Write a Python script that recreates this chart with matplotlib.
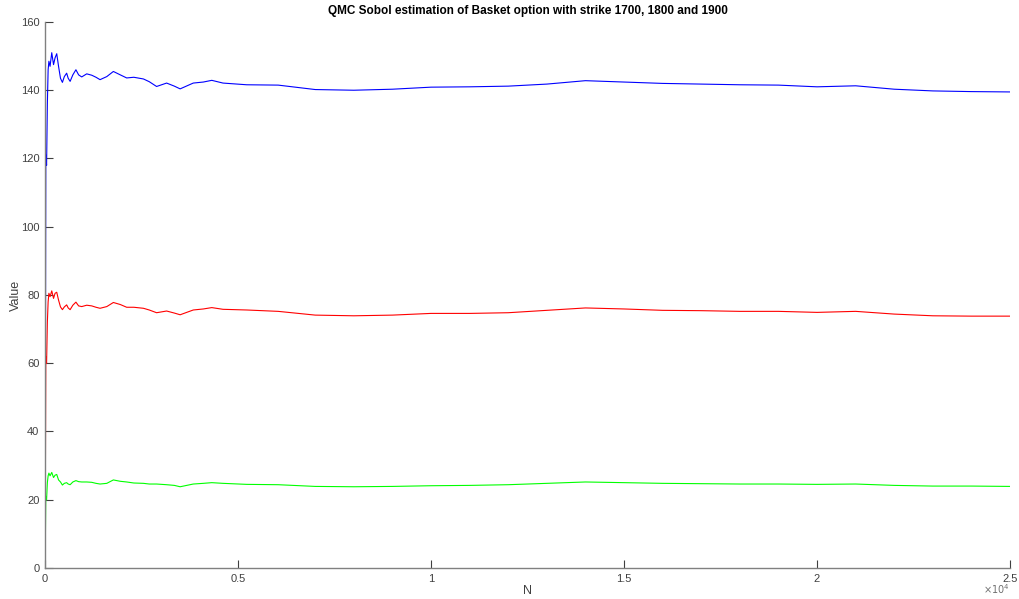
import matplotlib
matplotlib.use("Agg")
import matplotlib.pyplot as plt
from matplotlib.ticker import FuncFormatter

plt.rcParams['font.family'] = ['Liberation Sans', 'DejaVu Sans']

# sample count and the three QMC estimates (strike 1700, 1800, 1900)
n_samples = [1, 20, 40, 60, 80, 100, 130, 174, 220, 260, 303, 350, 400, 450, 500,
             560, 600, 650, 720, 800, 870, 950, 1080, 1210, 1320, 1425, 1600, 1770,
             1950, 2115, 2300, 2550, 2700, 2890, 3150, 3350, 3500, 3840, 4100, 4320,
             4610, 5225, 6040, 7000, 8000, 9000, 10000, 11000, 12000, 13000, 14000,
             15000, 16000, 17000, 18000, 19000, 20000, 21000, 22000, 23000, 24000, 25000]

price_1700 = [0, 121, 118, 136, 146, 148.5, 147, 151, 147.5, 149.5, 150.7, 147, 143.5,
              142.3, 144, 145, 143.5, 142.6, 144.5, 146, 144.5, 143.9, 144.8, 144.4,
              143.8, 143.1, 144, 145.5, 144.5, 143.6, 143.8, 143.3, 142.5, 141.1, 142.1,
              141.2, 140.4, 142.1, 142.4, 142.9, 142.1, 141.6, 141.5, 140.2, 140.0,
              140.3, 140.9, 141.0, 141.2, 141.8, 142.8, 142.4, 142.0, 141.8, 141.6,
              141.5, 141.0, 141.3, 140.3, 139.8, 139.6, 139.5]

price_1800 = [0, 62, 60, 72, 78, 80.5, 79.5, 81.2, 79, 80.5, 80.8, 78.5, 76.5, 75.7,
              76.5, 77.1, 76.2, 75.7, 77, 77.9, 76.8, 76.6, 77, 76.8, 76.4, 76.1, 76.6,
              77.8, 77.2, 76.4, 76.4, 76.1, 75.6, 74.8, 75.3, 74.7, 74.2, 75.6, 75.9,
              76.3, 75.8, 75.6, 75.2, 74.1, 73.9, 74.1, 74.6, 74.6, 74.8, 75.5, 76.2,
              75.9, 75.5, 75.4, 75.2, 75.2, 74.9, 75.2, 74.4, 73.9, 73.8, 73.8]

price_1900 = [0, 21, 20, 25, 27, 27.8, 27, 28, 26.5, 27.2, 27.4, 25.8, 25.2, 24.3, 24.8,
              25.0, 24.6, 24.4, 25.2, 25.6, 25.3, 25.2, 25.2, 25.1, 24.8, 24.6, 24.8,
              25.8, 25.4, 25.2, 24.9, 24.8, 24.6, 24.6, 24.4, 24.2, 23.8, 24.6, 24.8,
              25.0, 24.8, 24.5, 24.4, 23.9, 23.8, 23.9, 24.1, 24.2, 24.4, 24.8, 25.2,
              25.0, 24.8, 24.7, 24.6, 24.6, 24.5, 24.6, 24.2, 24.0, 24.0, 23.9]

fig = plt.figure(figsize=(10.19, 5.99), dpi=100)
ax = fig.add_axes([0.0442, 0.0518, 0.9470, 0.9115])

ax.plot(n_samples, price_1700, color=(0, 0, 1), lw=0.8)
ax.plot(n_samples, price_1800, color=(1, 0, 0), lw=0.8)
ax.plot(n_samples, price_1900, color=(0, 1, 0), lw=0.8)

ax.set_xlim(0, 25000)
ax.set_ylim(0, 160)
ax.set_xticks([0, 5000, 10000, 15000, 20000, 25000])
ax.set_yticks(range(0, 161, 20))
ax.xaxis.set_major_formatter(FuncFormatter(lambda v, p: f"{v / 1e4:g}"))

for s in ['top', 'right']:
    ax.spines[s].set_visible(False)
for s in ['left', 'bottom']:
    ax.spines[s].set_color('#808080')
    ax.spines[s].set_linewidth(1.0)

ax.tick_params(direction='in', length=6, width=0.8, color='#404040',
               labelsize=8, labelcolor='#404040', pad=4)

ax.set_title('QMC Sobol estimation of Basket option with strike 1700, 1800 and 1900',
             fontsize=8.5, fontweight='bold', pad=6)
ax.set_xlabel('N', fontsize=9, color='#404040', labelpad=1)
ax.set_ylabel('Value', fontsize=9, color='#404040')
ax.yaxis.set_label_coords(-0.024, 0.5)

fig.text(0.991, 0.016, r'$\times10^4$', ha='right', va='center', fontsize=7, color='#707070')

fig.savefig('out.png', dpi=100)
